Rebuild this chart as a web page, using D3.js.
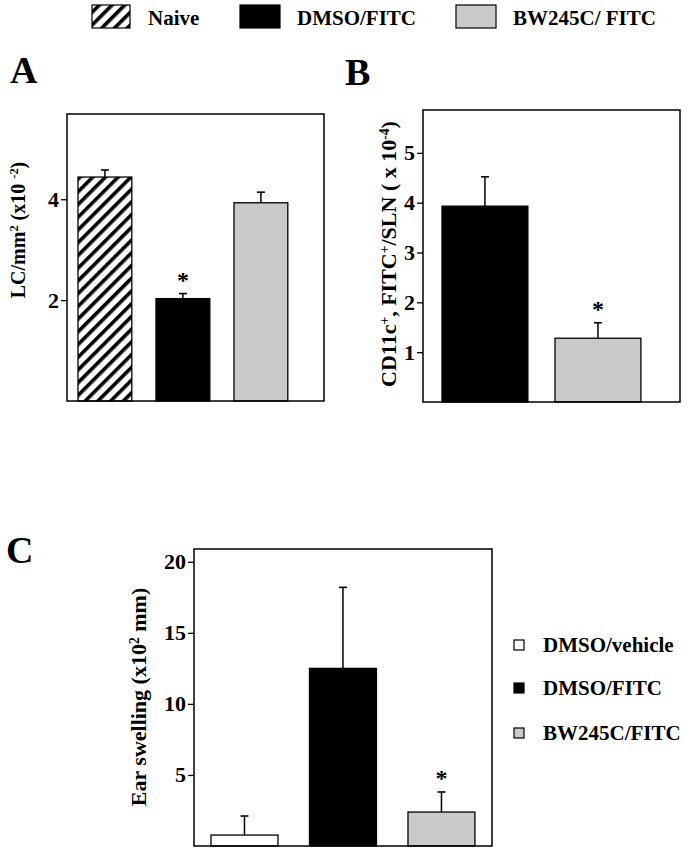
<!DOCTYPE html>
<html>
<head>
<meta charset="utf-8">
<script src="https://cdn.jsdelivr.net/npm/d3@7"></script>
<style>
  html, body { margin: 0; padding: 0; background: #fff; }
  svg { display: block; }
  text { font-family: "Liberation Serif", "Times New Roman", serif; font-weight: bold; fill: #000; }
</style>
</head>
<body>
<svg id="chart" width="691" height="853"></svg>
<script>
// ---------------- DATA ----------------
const legendTopLabels = ["Naive", "DMSO/FITC", "BW245C/ FITC"];

const catsA = ["Naive", "DMSO/FITC", "BW245C/FITC"];
const valsA = [4.44, 2.03, 3.93];
const errA  = [0.14, 0.10, 0.21];
const sigA  = [false, true, false];
const ticksA = [2, 4];

const catsB = ["DMSO/FITC", "BW245C/FITC"];
const valsB = [3.93, 1.28];
const errB  = [0.59, 0.31];
const sigB  = [false, true];
const ticksB = [1, 2, 3, 4, 5];

const catsC = ["DMSO/vehicle", "DMSO/FITC", "BW245C/FITC"];
const valsC = [0.77, 12.5, 2.39];
const errC  = [1.34, 5.7, 1.41];
const sigC  = [false, false, true];
const ticksC = [5, 10, 15, 20];
const legendCLabels = ["DMSO/vehicle", "DMSO/FITC", "BW245C/FITC"];

// ---------------- STYLE ----------------
const GRAY = "#c9c9c9";
const fillFor = {
  "Naive": "url(#hatch)",
  "DMSO/FITC": "#000",
  "BW245C/FITC": GRAY,
  "DMSO/vehicle": "#fff"
};

const svg = d3.select("#chart");
const defs = svg.append("defs");
const pat = defs.append("pattern")
  .attr("id", "hatch").attr("patternUnits", "userSpaceOnUse")
  .attr("width", 9).attr("height", 9)
  .attr("patternTransform", "rotate(45)");
pat.append("rect").attr("width", 9).attr("height", 9).attr("fill", "#fff");
pat.append("rect").attr("x", 0).attr("y", 0).attr("width", 3.6).attr("height", 9).attr("fill", "#000");

// ---------------- TOP LEGEND ----------------
const topLegend = [
  {box: [92, 5, 38, 23], fill: "url(#hatch)", tx: 148, label: legendTopLabels[0]},
  {box: [240, 5, 40, 23], fill: "#000", tx: 297, label: legendTopLabels[1]},
  {box: [456, 5, 40, 23], fill: GRAY, tx: 513, label: legendTopLabels[2]}
];
topLegend.forEach(d => {
  svg.append("rect").attr("x", d.box[0]).attr("y", d.box[1])
    .attr("width", d.box[2]).attr("height", d.box[3])
    .attr("fill", d.fill).attr("stroke", "#000").attr("stroke-width", 1.2);
  svg.append("text").attr("x", d.tx).attr("y", 25)
    .attr("font-size", 21).text(d.label);
});

// ---------------- PANEL FUNCTION ----------------
function panel(cfg) {
  const g = svg.append("g");
  const x = d3.scaleBand().domain(cfg.cats).range(cfg.xRange)
    .paddingInner(cfg.pInner).paddingOuter(0.1);
  const y = d3.scaleLinear().domain(cfg.yDomain).range([cfg.frame.b, cfg.frame.t]);

  g.selectAll("rect.bar").data(cfg.cats).join("rect")
    .attr("class", "bar")
    .attr("x", d => x(d))
    .attr("width", x.bandwidth())
    .attr("y", (d, i) => y(cfg.vals[i]))
    .attr("height", (d, i) => y(0) - y(cfg.vals[i]))
    .attr("fill", d => fillFor[d])
    .attr("stroke", "#000").attr("stroke-width", 1.3);

  cfg.cats.forEach((d, i) => {
    const cx = x(d) + x.bandwidth() / 2;
    const top = y(cfg.vals[i] + cfg.errs[i]);
    g.append("line").attr("x1", cx).attr("x2", cx)
      .attr("y1", y(cfg.vals[i])).attr("y2", top)
      .attr("stroke", "#000").attr("stroke-width", 1.5);
    g.append("line").attr("x1", cx - 4).attr("x2", cx + 4)
      .attr("y1", top).attr("y2", top)
      .attr("stroke", "#000").attr("stroke-width", 1.6);
    if (cfg.sig[i]) {
      g.append("text").attr("x", cx).attr("y", top - 6)
        .attr("text-anchor", "middle").attr("font-size", 24).text("*");
    }
  });

  g.append("rect").attr("x", cfg.frame.l).attr("y", cfg.frame.t)
    .attr("width", cfg.frame.r - cfg.frame.l).attr("height", cfg.frame.b - cfg.frame.t)
    .attr("fill", "none").attr("stroke", "#000").attr("stroke-width", 1.5);

  const ax = g.append("g").attr("transform", `translate(${cfg.frame.l},0)`)
    .call(d3.axisLeft(y).tickValues(cfg.ticks).tickSize(6).tickPadding(2).tickFormat(d3.format("d")));
  ax.select(".domain").remove();
  ax.selectAll(".tick line").attr("stroke-width", 1.3);
  ax.selectAll(".tick text").attr("font-size", 22)
    .attr("font-family", '"Liberation Serif", serif').attr("font-weight", "bold");

  const t = g.append("text")
    .attr("transform", `translate(${cfg.title.x},${cfg.title.y}) rotate(-90)`)
    .attr("text-anchor", "middle").attr("font-size", cfg.title.size);
  cfg.title.parts.forEach(p => {
    const ts = t.append("tspan").text(p[0]);
    if (p[1] === "sup") ts.attr("baseline-shift", "super").attr("font-size", cfg.title.size * 0.62);
  });

  svg.append("text").attr("x", cfg.letter.x).attr("y", cfg.letter.y)
    .attr("font-size", 38).text(cfg.letter.t);
  return {x, y};
}

panel({
  cats: catsA, vals: valsA, errs: errA, sig: sigA, ticks: ticksA,
  xRange: [70.2, 295.6], pInner: 0.31, yDomain: [0, 5.69],
  frame: {l: 67, r: 324, t: 114, b: 401},
  title: {x: 25, y: 230, size: 20, parts: [["LC/mm"], ["2", "sup"], [" (x10 "], ["-2", "sup"], [")"]]},
  letter: {x: 10, y: 83, t: "A"}
});

panel({
  cats: catsB, vals: valsB, errs: errB, sig: sigB, ticks: ticksB,
  xRange: [430.7, 652.2], pInner: 0.24, yDomain: [0, 5.86],
  frame: {l: 423, r: 680, t: 110, b: 402},
  title: {x: 396, y: 254, size: 22, parts: [["CD11c"], ["+", "sup"], [", FITC"], ["+", "sup"], ["/SLN ( x 10"], ["-4", "sup"], [")"]]},
  letter: {x: 345, y: 85, t: "B"}
});

panel({
  cats: catsC, vals: valsC, errs: errC, sig: sigC, ticks: ticksC,
  xRange: [201.15, 484.8], pInner: 0.32, yDomain: [0, 20.9],
  frame: {l: 194, r: 492, t: 549, b: 846},
  title: {x: 146, y: 697, size: 22, parts: [["Ear swelling (x10"], ["2", "sup"], [" mm)"]]},
  letter: {x: 6, y: 563, t: "C"}
});

// ---------------- LEGEND C ----------------
const legC = svg.append("g");
legendCLabels.forEach((lab, i) => {
  const cy = [645, 688, 733][i];
  legC.append("rect").attr("x", 514).attr("y", cy - 5).attr("width", 10).attr("height", 10)
    .attr("fill", fillFor[lab]).attr("stroke", "#000").attr("stroke-width", 1.2);
  legC.append("text").attr("x", 543).attr("y", cy + 7).attr("font-size", 21).text(lab);
});
</script>
</body>
</html>
